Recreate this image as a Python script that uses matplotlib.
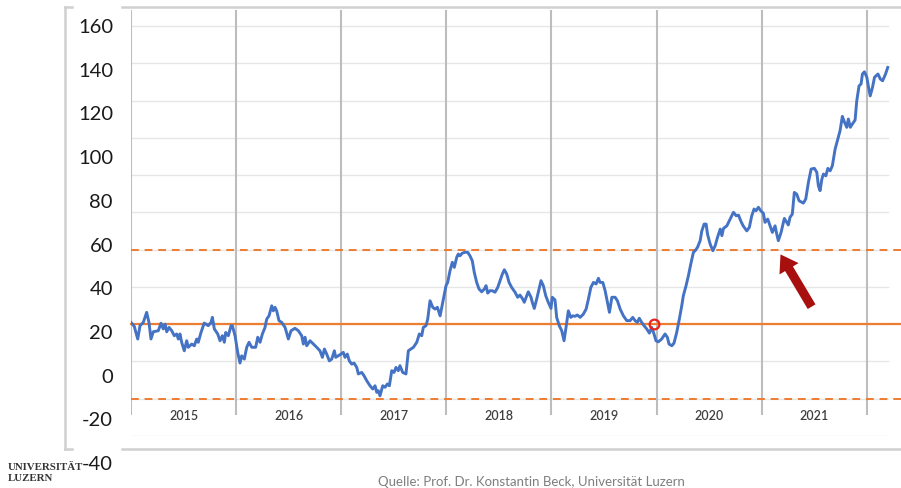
import numpy as np
import matplotlib.pyplot as plt
from matplotlib.lines import Line2D

# Daten, Zeit in Jahren, Wert in Einheiten der linken Achse
t = [2015.000, 2015.031, 2015.064, 2015.086, 2015.117, 2015.149, 2015.171, 2015.190, 2015.212, 2015.260,
     2015.285, 2015.307, 2015.324, 2015.340, 2015.362, 2015.387, 2015.412, 2015.435, 2015.450, 2015.466,
     2015.482, 2015.507, 2015.530, 2015.545, 2015.578, 2015.602, 2015.625, 2015.640, 2015.666, 2015.697,
     2015.735, 2015.761, 2015.774, 2015.793, 2015.825, 2015.847, 2015.869, 2015.888, 2015.901, 2015.926,
     2015.952, 2015.964, 2015.990, 2016.015, 2016.037,
     2016.053, 2016.078, 2016.101, 2016.123, 2016.149, 2016.186, 2016.206, 2016.228, 2016.250, 2016.275,
     2016.291, 2016.313, 2016.339, 2016.354, 2016.370, 2016.386, 2016.408, 2016.434, 2016.466, 2016.497,
     2016.523, 2016.560, 2016.592, 2016.624, 2016.640, 2016.656, 2016.672, 2016.703, 2016.735, 2016.767,
     2016.798, 2016.821, 2016.840, 2016.862, 2016.887, 2016.910, 2016.935, 2016.948, 2016.972, 2016.998,
     2017.020,
     2017.036, 2017.058, 2017.077, 2017.100, 2017.122, 2017.148, 2017.163, 2017.195, 2017.217, 2017.243,
     2017.274, 2017.300, 2017.322, 2017.338, 2017.353, 2017.369, 2017.395, 2017.417, 2017.439, 2017.458,
     2017.481, 2017.503, 2017.521, 2017.543, 2017.559, 2017.585, 2017.616, 2017.639, 2017.662, 2017.687,
     2017.719, 2017.743, 2017.766, 2017.781, 2017.807, 2017.823, 2017.845, 2017.871, 2017.893, 2017.915,
     2017.941, 2017.972, 2017.997,
     2018.013, 2018.035, 2018.057, 2018.076, 2018.099, 2018.114, 2018.130, 2018.152, 2018.178, 2018.203,
     2018.225, 2018.247, 2018.266, 2018.289, 2018.311, 2018.337, 2018.362, 2018.378, 2018.394, 2018.416,
     2018.438, 2018.463, 2018.489, 2018.511, 2018.533, 2018.552, 2018.575, 2018.597, 2018.622, 2018.654,
     2018.679, 2018.701, 2018.723, 2018.742, 2018.765, 2018.780, 2018.806, 2018.818, 2018.837, 2018.860,
     2018.882, 2018.901, 2018.923, 2018.946, 2018.970, 2018.996, 2019.008, 2019.034,
     2019.050, 2019.075, 2019.098, 2019.120, 2019.139, 2019.161, 2019.184, 2019.203, 2019.225, 2019.247,
     2019.273, 2019.304, 2019.330, 2019.352, 2019.375, 2019.400, 2019.425, 2019.447, 2019.463, 2019.489,
     2019.511, 2019.533, 2019.552, 2019.575, 2019.606, 2019.628, 2019.654, 2019.685, 2019.717, 2019.748,
     2019.774, 2019.796, 2019.817, 2019.836, 2019.859, 2019.881, 2019.907, 2019.932, 2019.954, 2019.976,
     2019.995,
     2020.017, 2020.049, 2020.081, 2020.103, 2020.119, 2020.145, 2020.166, 2020.192, 2020.217, 2020.240,
     2020.255, 2020.281, 2020.303, 2020.326, 2020.351, 2020.367, 2020.389, 2020.415, 2020.431, 2020.453,
     2020.472, 2020.485, 2020.510, 2020.536, 2020.558, 2020.580, 2020.606, 2020.622, 2020.637, 2020.669,
     2020.701, 2020.732, 2020.758, 2020.780, 2020.801, 2020.824, 2020.859, 2020.883, 2020.906, 2020.928,
     2020.947, 2020.969, 2020.992, 2021.017,
     2021.032, 2021.058, 2021.080, 2021.102, 2021.128, 2021.144, 2021.159, 2021.185, 2021.216, 2021.239,
     2021.254, 2021.270, 2021.292, 2021.311, 2021.334, 2021.356, 2021.397, 2021.420, 2021.445, 2021.471,
     2021.502, 2021.525, 2021.540, 2021.556, 2021.573, 2021.588, 2021.611, 2021.630, 2021.652, 2021.673,
     2021.699, 2021.725, 2021.746, 2021.768, 2021.787, 2021.810, 2021.825, 2021.844, 2021.863, 2021.889,
     2021.905, 2021.927, 2021.946, 2021.959, 2021.978, 2022.001, 2022.017, 2022.033, 2022.055, 2022.074,
     2022.107, 2022.129, 2022.151, 2022.179, 2022.200]
wert = [24.1, 22.3, 16.5, 22.6, 24.1, 28.7, 24.1, 16.5, 19.8, 20.3,
        23.7, 21.1, 23.3, 19.8, 21.8, 20.3, 18.0, 18.8, 16.5, 18.8,
        15.0, 11.1, 15.7, 12.7, 14.2, 13.4, 16.5, 15.0, 19.5, 23.8,
        22.6, 24.1, 26.4, 21.1, 18.8, 15.7, 18.0, 15.0, 19.5, 18.0,
        22.6, 22.6, 18.0, 10.4, 5.5,
        8.8, 7.3, 12.7, 15.0, 12.7, 12.7, 17.3, 15.0, 18.8, 21.8,
        25.6, 27.1, 31.7, 29.4, 31.0, 29.4, 24.9, 24.1, 21.8, 16.5,
        20.3, 21.4, 20.3, 18.0, 14.2, 17.3, 13.4, 15.7, 14.2, 12.7,
        11.1, 8.1, 11.9, 9.6, 6.5, 7.3, 11.1, 8.1, 8.8, 9.6,
        10.4,
        8.1, 9.6, 6.5, 5.0, 5.5, 3.5, 0.5, 1.2, -0.3, -2.6,
        -4.9, -6.4, -4.9, -7.9, -7.2, -9.5, -4.9, -5.6, -4.1, -4.9,
        2.0, 1.2, 3.5, 2.0, 4.3, 1.2, 0.5, 11.1, 11.9, 12.7,
        15.0, 18.8, 18.0, 21.8, 22.6, 25.6, 34.0, 31.0, 30.2, 31.0,
        27.1, 34.8, 40.9,
        42.4, 47.7, 51.6, 49.3, 53.9, 55.4, 54.6, 55.8, 56.2, 56.2,
        54.6, 52.3, 47.0, 42.4, 39.4, 38.1, 39.4, 40.9, 37.5, 38.6,
        38.6, 37.9, 40.1, 43.2, 46.2, 48.2, 46.2, 42.4, 40.1, 37.9,
        35.6, 36.6, 35.1, 33.3, 36.3, 38.1, 35.6, 33.3, 30.5, 34.8,
        39.4, 43.2, 40.9, 36.3, 33.3, 30.5, 35.6, 34.4,
        26.4, 22.6, 20.3, 15.7, 21.8, 29.4, 26.4, 27.1, 26.9, 27.5,
        26.4, 27.9, 30.2, 34.8, 40.1, 42.4, 41.7, 44.3, 42.4, 42.4,
        38.6, 33.3, 28.7, 35.6, 35.6, 34.0, 30.2, 27.1, 24.9, 24.9,
        26.4, 24.9, 24.1, 26.0, 24.1, 22.6, 21.1, 19.2, 21.8, 18.8,
        15.7,
        15.2, 16.5, 18.8, 17.3, 14.2, 13.4, 14.6, 19.5, 25.6, 31.7,
        36.3, 40.9, 45.4, 50.8, 56.2, 56.9, 58.4, 61.5, 66.0, 69.1,
        69.1, 64.5, 60.0, 56.9, 59.2, 63.0, 66.8, 63.8, 67.1, 68.3,
        71.4, 74.5, 72.9, 73.2, 70.6, 68.3, 66.0, 67.6, 72.9, 76.0,
        75.2, 76.8, 75.2, 74.0,
        69.9, 71.4, 68.3, 65.3, 68.3, 64.5, 61.5, 65.3, 71.7, 69.9,
        68.7, 72.2, 73.7, 83.6, 82.8, 79.8, 78.7, 80.6, 88.2, 94.3,
        94.6, 92.8, 86.6, 84.4, 89.7, 92.0, 91.2, 94.6, 93.5, 95.8,
        103.4, 108.0, 111.8, 118.4, 115.9, 113.4, 117.2, 113.4, 114.9, 116.7,
        125.5, 132.4, 133.2, 137.8, 138.8, 136.3, 131.7, 127.8, 131.7, 136.3,
        137.8, 135.5, 134.7, 137.8, 140.8]

jahre = [2015, 2016, 2017, 2018, 2019, 2020, 2021]
y_ticks = [-40, -20, 0, 20, 40, 60, 80, 100, 120, 140, 160]
mitte = 23.3                 # durchgezogene orange Linie
baender = [57.2, -11.0]      # gestrichelte orange Linien
punkt_t, punkt_w = 2019.976, 23.3
pfeil_von = (2021.489, 30.2)
pfeil_zu = (2021.166, 56.3)

blau = '#4472C4'
orange = '#ED7D31'

W, H = 901, 489
fig = plt.figure(figsize=(W / 100, H / 100), dpi=100)

# Datenachse (innere Grafik)
ax = fig.add_axes([131 / W, 1 - 437 / H, (901 - 131) / W, (437 - 11) / H])
ax.set_xlim(2015, 2022.326)
ax.set_ylim(-27.9, 167.1)
ax.axis('off')

# horizontale Gitterlinien
for g in np.linspace(-27.9, 159.7, 12):
    ax.plot([2015, 2022.203], [g, g], color='#e6e6e6', lw=1.0, zorder=1)
# vertikale Jahrestrenner
ax.vlines(jahre + [2022], -18.3, 167.1, color='#bdbdbd', lw=1.5, zorder=1)

for j in jahre:
    ax.text(j + 0.5, -18.3, str(j), ha='center', va='center', fontsize=9,
            family='Lato', fontweight='semibold', color='#404040')

ax.plot([2015, 2022.326], [mitte, mitte], color=orange, lw=1.6, zorder=2, clip_on=False)
for b in baender:
    ax.plot([2015, 2022.326], [b, b], color=orange, lw=1.4, ls=(0, (4, 3)), zorder=2, clip_on=False)

ax.plot(t, wert, color=blau, lw=2.1, zorder=3, solid_joinstyle='round')
ax.plot([punkt_t], [punkt_w], 'o', ms=7, mfc='none', mec='#e8231f', mew=1.6, zorder=4)

ax.annotate('', xy=pfeil_zu, xytext=pfeil_von,
            arrowprops=dict(arrowstyle='simple,head_width=1.6,head_length=1.2,tail_width=0.65',
                            color='#a80f0f', lw=0), zorder=5)

# linke Achsenbeschriftung
ax_lab = fig.add_axes([113 / W, 1 - 463 / H, 0.005, (463 - 26) / H])
ax_lab.set_ylim(-40, 160)
ax_lab.set_yticks(y_ticks)
ax_lab.set_yticklabels([str(v) for v in y_ticks], fontsize=14.5, family='Lato', color='#1a1a1a')
ax_lab.tick_params(axis='y', length=0, pad=0)
ax_lab.set_xticks([])
for s in ax_lab.spines.values():
    s.set_visible(False)
ax_lab.patch.set_alpha(0)

# Rahmen
rahmen = '#d0d0d0'
def fline(x0, y0, x1, y1):
    fig.add_artist(Line2D([x0 / W, x1 / W], [1 - y0 / H, 1 - y1 / H], color=rahmen, lw=1.8))
fline(65, 8, 65, 450)
fline(65, 8, 72, 8)
fline(122, 8, 901, 8)
fline(65, 450, 72, 450)
fline(122, 450, 901, 450)

fig.text(8 / W, 1 - 467 / H, 'UNIVERSITÄT', fontsize=7.8, family='Liberation Serif',
         fontweight='bold', color='#333333', va='center')
fig.text(8 / W, 1 - 479 / H, 'LUZERN', fontsize=7.8, family='Liberation Serif',
         fontweight='bold', color='#333333', va='center')
fig.text(378 / W, 1 - 488 / H, 'Quelle: Prof. Dr. Konstantin Beck, Universität Luzern',
         fontsize=9.5, family='Lato', color='#7f7f7f', va='bottom')

plt.savefig('out.png', dpi=100)
